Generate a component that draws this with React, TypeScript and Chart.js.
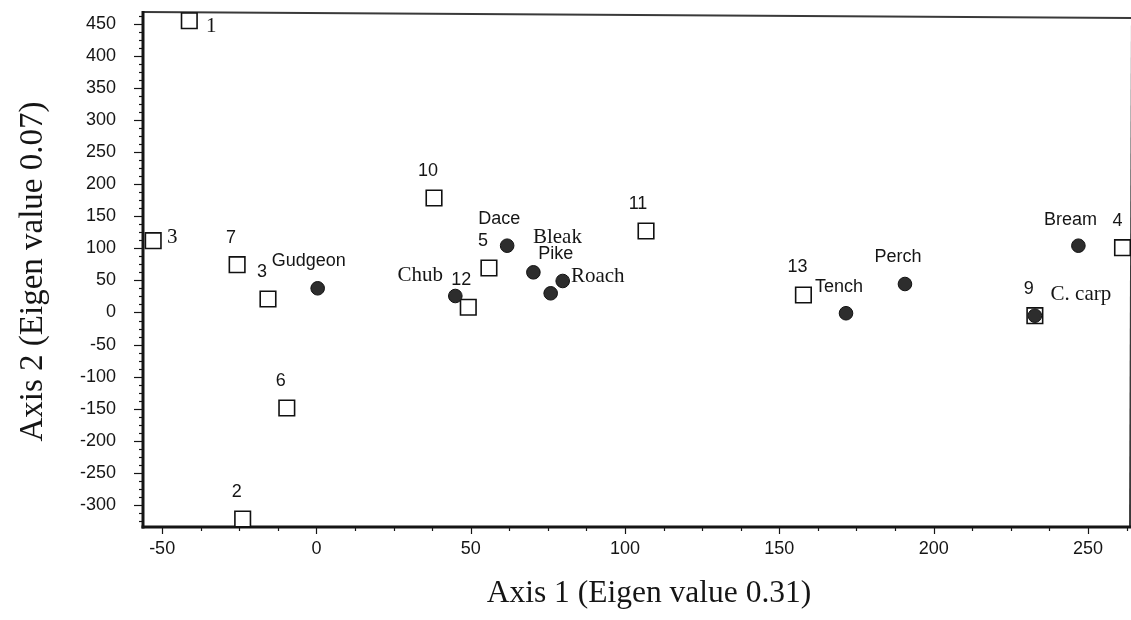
import React, { useEffect, useRef } from "react";
import { Chart, registerables } from "chart.js";

Chart.register(...registerables);

// Sampling sites (open squares)
const siteLabels = ["1", "3", "7", "3", "6", "2", "10", "5", "12", "11", "13", "9", "4"];
const siteAxis1 = [-41.2, -52.9, -25.7, -15.7, -9.6, -23.9, 38.1, 55.9, 49.2, 106.8, 157.8, 232.8, 261.2];
const siteAxis2 = [454.7, 111.9, 74.5, 21, -148.8, -321.8, 178.4, 69.3, 8.1, 127, 27.3, -5, 101];

// Fish species (filled circles)
const speciesNames = ["Gudgeon", "Chub", "Dace", "Bleak", "Pike", "Roach", "Tench", "Perch", "Bream", "C. carp"];
const speciesAxis1 = [0.4, 45, 61.8, 70.3, 75.9, 79.8, 171.6, 190.7, 246.9, 232.8];
const speciesAxis2 = [37.7, 25.7, 104.1, 62.6, 29.9, 49.1, -1.2, 44.4, 104.1, -5];

// Axis ticks
const xTickValues = [-50, 0, 50, 100, 150, 200, 250];
const yTickValues = [-300, -250, -200, -150, -100, -50, 0, 50, 100, 150, 200, 250, 300, 350, 400, 450];

const xTitle = "Axis 1 (Eigen value 0.31)";
const yTitle = "Axis 2 (Eigen value 0.07)";

// Label placement relative to each marker: [dx, dy, serif]
type LabelStyle = [number, number, boolean];
const siteLabelStyle: LabelStyle[] = [
  [22, 6, true],
  [19, -3, true],
  [-6, -27, false],
  [-6, -27, false],
  [-6, -27, false],
  [-6, -27, false],
  [-6, -27, false],
  [-6, -27, false],
  [-7, -27, false],
  [-8, -27, false],
  [-6, -28, false],
  [-6, -27, false],
  [-5, -27, false],
];
const speciesLabelStyle: LabelStyle[] = [
  [-9, -27, false],
  [-35, -21, true],
  [-8, -27, false],
  [24, -35, true],
  [5, -39, false],
  [35, -5, true],
  [-7, -26, false],
  [-7, -27, false],
  [-8, -26, false],
  [46, -21, true],
];

const SANS = '"Liberation Sans", Arial, sans-serif';
const SERIF = '"Liberation Serif", "Times New Roman", serif';
const INK = "#151515";

const MINOR_STEP = 12.5;

const framePlugin = {
  id: "frame",
  beforeDatasetsDraw(chart: any) {
    const { ctx, chartArea, scales } = chart;
    const { left, right, top, bottom } = chartArea;
    const xs = scales.x;
    const ys = scales.y;
    ctx.save();
    ctx.strokeStyle = INK;
    ctx.lineCap = "butt";

    // ticks on the x axis
    ctx.lineWidth = 1.2;
    for (let v = -50; v <= xs.max; v += MINOR_STEP) {
      const px = Math.round(xs.getPixelForValue(v)) + 0.5;
      const len = v % 50 === 0 ? 7 : 4;
      ctx.beginPath();
      ctx.moveTo(px, bottom);
      ctx.lineTo(px, bottom + len);
      ctx.stroke();
    }
    // ticks on the y axis
    for (let v = -325; v <= ys.max; v += MINOR_STEP) {
      const py = Math.round(ys.getPixelForValue(v)) + 0.5;
      const len = v % 50 === 0 ? 9 : 4;
      ctx.beginPath();
      ctx.moveTo(left, py);
      ctx.lineTo(left - len, py);
      ctx.stroke();
    }

    // thin top and right border
    ctx.strokeStyle = "#3a3a3a";
    ctx.lineWidth = 1.8;
    ctx.beginPath();
    ctx.moveTo(left, top);
    ctx.lineTo(right + 3, top + 6);
    ctx.stroke();
    ctx.lineWidth = 2;
    ctx.beginPath();
    ctx.moveTo(right + 3, top + 6);
    ctx.lineTo(right + 1, bottom);
    ctx.stroke();

    // heavy left and bottom axes
    ctx.strokeStyle = INK;
    ctx.lineWidth = 3;
    ctx.beginPath();
    ctx.moveTo(left, top - 1);
    ctx.lineTo(left, bottom + 1.5);
    ctx.stroke();
    ctx.beginPath();
    ctx.moveTo(left - 1.5, bottom);
    ctx.lineTo(right + 2, bottom);
    ctx.stroke();

    // axis titles
    ctx.fillStyle = INK;
    ctx.textAlign = "center";
    ctx.textBaseline = "alphabetic";
    ctx.font = `31.5px ${SERIF}`;
    ctx.fillText(xTitle, 649, 602);
    ctx.save();
    ctx.translate(41.5, 271.5);
    ctx.rotate(-Math.PI / 2);
    ctx.font = `33px ${SERIF}`;
    ctx.fillText(yTitle, 0, 0);
    ctx.restore();
    ctx.restore();
  },
};

const labelPlugin = {
  id: "pointLabels",
  afterDatasetsDraw(chart: any) {
    const { ctx } = chart;
    ctx.save();
    ctx.fillStyle = INK;
    ctx.textAlign = "center";
    ctx.textBaseline = "middle";
    chart.data.datasets.forEach((ds: any, di: number) => {
      const meta = chart.getDatasetMeta(di);
      const texts: string[] = ds.pointTexts;
      const styles: LabelStyle[] = ds.pointTextStyle;
      meta.data.forEach((el: any, i: number) => {
        const [dx, dy, serif] = styles[i];
        ctx.font = serif ? `21px ${SERIF}` : `18px ${SANS}`;
        ctx.fillText(texts[i], el.x + dx, el.y + dy);
      });
    });
    ctx.restore();
  },
};

// Keep the plot box fixed: no extra room reserved for overhanging tick labels
const noOverhang = (s: any) => {
  s.paddingTop = 0;
  s.paddingBottom = 0;
  s.paddingLeft = 0;
  s.paddingRight = 0;
};

export default function App() {
  const canvasRef = useRef<HTMLCanvasElement>(null);

  useEffect(() => {
    const canvas = canvasRef.current;
    if (!canvas) return;
    const chart = new Chart(canvas, {
      type: "scatter",
      data: {
        datasets: [
          {
            label: "Species",
            data: speciesAxis1.map((x, i) => ({ x, y: speciesAxis2[i] })),
            pointStyle: "circle",
            pointRadius: 6.8,
            backgroundColor: "#2d2d2d",
            borderColor: "#111",
            borderWidth: 1,
            order: 0,
            clip: false,
            pointTexts: speciesNames,
            pointTextStyle: speciesLabelStyle,
          } as any,
          {
            label: "Sites",
            data: siteAxis1.map((x, i) => ({ x, y: siteAxis2[i] })),
            pointStyle: "rect",
            pointRadius: 11,
            backgroundColor: "#ffffff",
            borderColor: "#111",
            borderWidth: 1.6,
            order: 1,
            clip: false,
            pointTexts: siteLabels,
            pointTextStyle: siteLabelStyle,
          } as any,
        ],
      },
      options: {
        animation: false,
        responsive: false,
        events: [],
        layout: { autoPadding: false, padding: { top: 12, right: 2, left: 0, bottom: 0 } },
        plugins: { legend: { display: false }, tooltip: { enabled: false } },
        scales: {
          x: {
            type: "linear",
            min: -56.2,
            max: 263.3,
            grid: { display: false, drawTicks: false },
            border: { display: false },
            afterBuildTicks: (s: any) => {
              s.ticks = xTickValues.map((value) => ({ value }));
            },
            afterFit: (s: any) => {
              s.height = 93;
              noOverhang(s);
            },
            ticks: {
              autoSkip: false,
              maxRotation: 0,
              padding: 11,
              color: INK,
              font: { family: SANS, size: 18 },
              callback: (v: any) => String(v),
            },
          },
          y: {
            type: "linear",
            min: -334.3,
            max: 468.3,
            grid: { display: false, drawTicks: false },
            border: { display: false },
            afterBuildTicks: (s: any) => {
              s.ticks = yTickValues.map((value) => ({ value }));
            },
            afterFit: (s: any) => {
              s.width = 143;
              noOverhang(s);
            },
            ticks: {
              autoSkip: false,
              padding: 27,
              color: INK,
              font: { family: SANS, size: 18 },
              callback: (v: any) => String(v),
            },
          },
        },
      },
      plugins: [framePlugin, labelPlugin],
    });
    return () => chart.destroy();
  }, []);

  return (
    <div style={{ position: "absolute", left: 0, top: 0, width: 1131, height: 620, background: "#fff" }}>
      <canvas ref={canvasRef} width={1131} height={620} style={{ display: "block" }} />
    </div>
  );
}
